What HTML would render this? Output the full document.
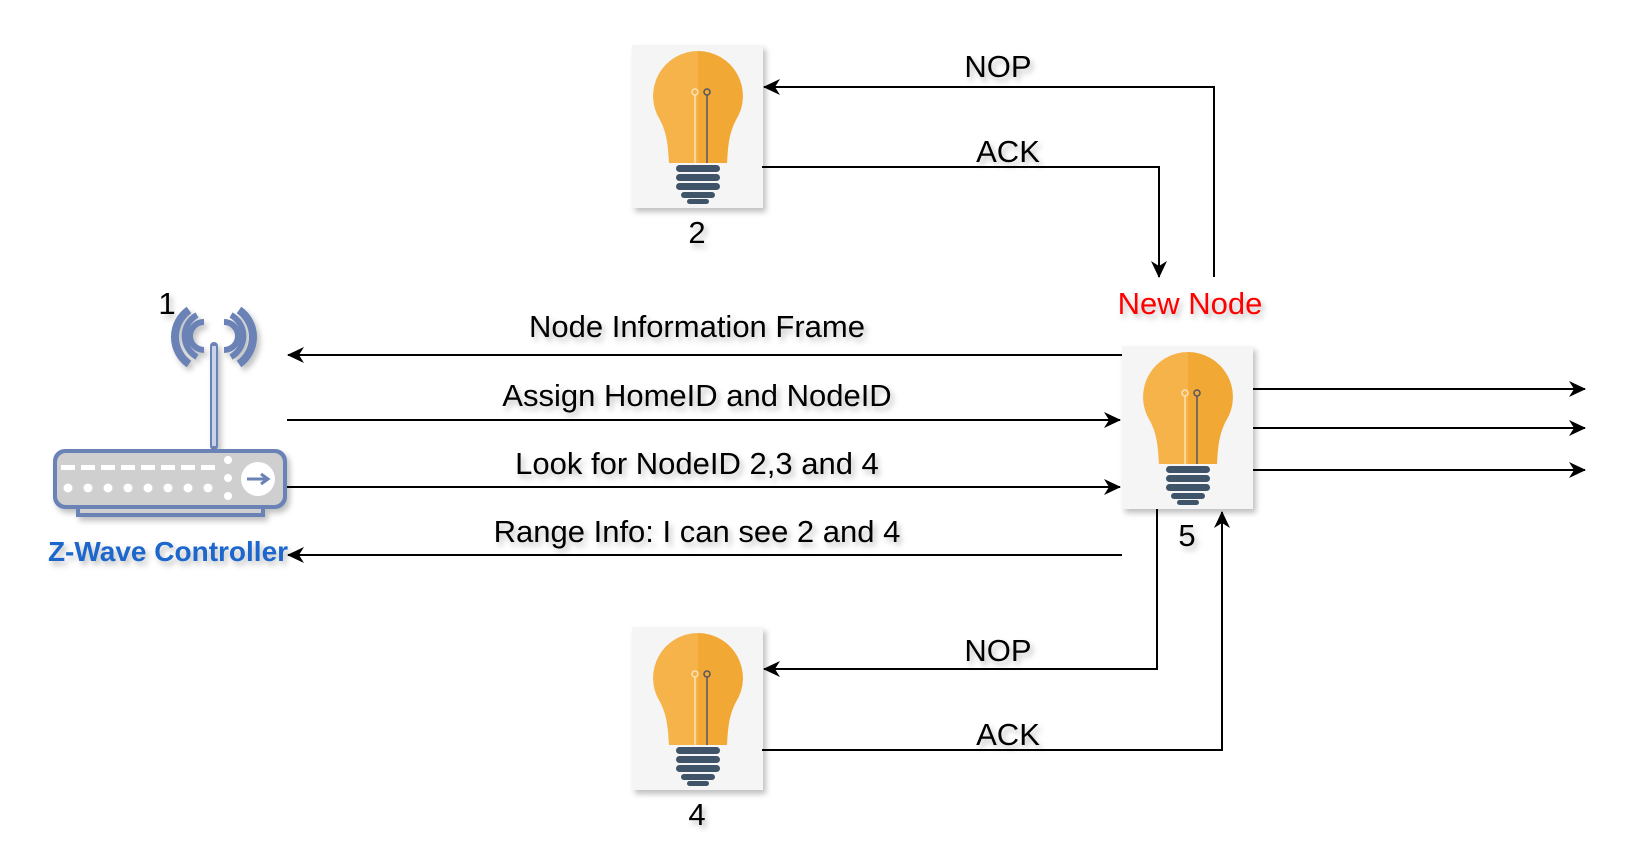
<!DOCTYPE html>
<html><head><meta charset="utf-8"><style>
html,body{margin:0;padding:0;background:#fff;}
svg{display:block;}
text{font-family:"Liberation Sans",sans-serif;}
</style></head><body>
<svg width="1634" height="862" viewBox="0 0 1634 862" xmlns="http://www.w3.org/2000/svg">
<defs>
<filter id="sh" x="-20%" y="-20%" width="150%" height="150%"><feDropShadow dx="3" dy="4" stdDeviation="3" flood-color="#000" flood-opacity="0.25"/></filter>
<marker id="ar" markerWidth="18" markerHeight="16" refX="16" refY="8" orient="auto" markerUnits="userSpaceOnUse">
<path d="M0,0 L17,8 L0,16 L5,8 Z" fill="#000"/></marker>
<g id="bulb">
<rect x="0" y="0" width="131" height="163" fill="#f5f5f5" filter="url(#sh)"/>
<path d="M66,6 A45,45 0 0 0 28,75 C36,90 36,105 37,118 L66,118 Z" fill="#f5b34a"/>
<path d="M66,6 A45,45 0 0 1 104,75 C96,90 96,105 95,118 L66,118 Z" fill="#f2a835"/>
<line x1="63" y1="50" x2="63" y2="118" stroke="#fbe2b5" stroke-width="1.5"/>
<line x1="75" y1="50" x2="75" y2="118" stroke="#556" stroke-width="1.5"/>
<circle cx="63" cy="47" r="3" fill="none" stroke="#fbe2b5" stroke-width="1.5"/>
<circle cx="75" cy="47" r="3" fill="none" stroke="#556" stroke-width="1.5"/>
<g fill="#3f5468">
<rect x="44" y="120" width="44" height="7" rx="3.5"/>
<rect x="44" y="129" width="44" height="7" rx="3.5"/>
<rect x="44" y="138" width="44" height="7" rx="3.5"/>
<rect x="49" y="147" width="34" height="6" rx="3"/>
<rect x="55" y="154" width="22" height="5" rx="2.5"/>
</g>
</g>
</defs>

<use href="#bulb" x="632" y="45"/>
<use href="#bulb" x="1122" y="346"/>
<use href="#bulb" x="632" y="627"/>

<g font-size="31" fill="#000" text-anchor="middle" filter="url(#sh)">
<text x="697" y="243">2</text>
<text x="1187" y="546">5</text>
<text x="697" y="825">4</text>
<text x="167" y="314">1</text>
<text x="998" y="77">NOP</text>
<text x="1008" y="162">ACK</text>
<text x="697" y="337">Node Information Frame</text>
<text x="697" y="406">Assign HomeID and NodeID</text>
<text x="697" y="474">Look for NodeID 2,3 and 4</text>
<text x="697" y="542">Range Info: I can see 2 and 4</text>
<text x="998" y="661">NOP</text>
<text x="1008" y="745">ACK</text>
<text x="1190" y="314" fill="#ff0000">New Node</text>
<text x="168" y="561" font-weight="bold" font-size="28" fill="#1a66cc">Z-Wave Controller</text>
</g>

<g stroke="#000" stroke-width="2" fill="none">
<polyline points="1214,277 1214,87 764,87" marker-end="url(#ar)"/>
<polyline points="762,167 1159,167 1159,277" marker-end="url(#ar)"/>
<line x1="1122" y1="355" x2="288" y2="355" marker-end="url(#ar)"/>
<line x1="287" y1="420" x2="1120" y2="420" marker-end="url(#ar)"/>
<line x1="287" y1="487" x2="1120" y2="487" marker-end="url(#ar)"/>
<line x1="1122" y1="555" x2="288" y2="555" marker-end="url(#ar)"/>
<line x1="1253" y1="389" x2="1585" y2="389" marker-end="url(#ar)"/>
<line x1="1253" y1="428" x2="1585" y2="428" marker-end="url(#ar)"/>
<line x1="1253" y1="470" x2="1585" y2="470" marker-end="url(#ar)"/>
<polyline points="1157,509 1157,669 764,669" marker-end="url(#ar)"/>
<polyline points="762,750 1222,750 1222,512" marker-end="url(#ar)"/>
</g>

<!-- router -->
<g filter="url(#sh)">
<g fill="none" stroke="#6a82b5" stroke-width="6">
<path d="M204,322 A14,14 0 0 0 204,350"/>
<path d="M224,322 A14,14 0 0 1 224,350"/>
<path d="M197,315 A24,24 0 0 0 197,357"/>
<path d="M231,315 A24,24 0 0 1 231,357"/>
<path d="M189,310 A33,33 0 0 0 189,364" stroke-width="8"/>
<path d="M239,310 A33,33 0 0 1 239,364" stroke-width="8"/>
</g>
<rect x="210" y="342" width="8" height="108" rx="4" fill="#6a82b5"/>
<rect x="212" y="346" width="4" height="100" fill="#c9d2e6"/>
<rect x="76" y="505" width="189" height="12" fill="#6a82b5"/>
<rect x="80" y="507" width="181" height="6" fill="#cfcfcf"/>
<rect x="53" y="449" width="234" height="60" rx="12" fill="#6a82b5"/>
<rect x="57" y="453" width="226" height="52" rx="9" fill="#cfcfcf"/>
<g fill="#fff">
<rect x="61" y="465" width="14" height="5"/><rect x="81" y="465" width="14" height="5"/><rect x="101" y="465" width="14" height="5"/><rect x="121" y="465" width="14" height="5"/><rect x="141" y="465" width="14" height="5"/><rect x="161" y="465" width="14" height="5"/><rect x="181" y="465" width="14" height="5"/><rect x="201" y="465" width="14" height="5"/>
<circle cx="68" cy="488" r="4.5"/><circle cx="88" cy="488" r="4.5"/><circle cx="108" cy="488" r="4.5"/><circle cx="128" cy="488" r="4.5"/><circle cx="148" cy="488" r="4.5"/><circle cx="168" cy="488" r="4.5"/><circle cx="188" cy="488" r="4.5"/><circle cx="208" cy="488" r="4.5"/>
<circle cx="228" cy="460" r="4"/><circle cx="228" cy="478" r="4"/><circle cx="228" cy="496" r="4"/>
<circle cx="258" cy="479" r="17"/>
</g>
<path d="M247,479 L266,479 M261,474 L268,479 L261,484" stroke="#6a82b5" stroke-width="3" fill="none"/>
</g>
</svg>
</body></html>
